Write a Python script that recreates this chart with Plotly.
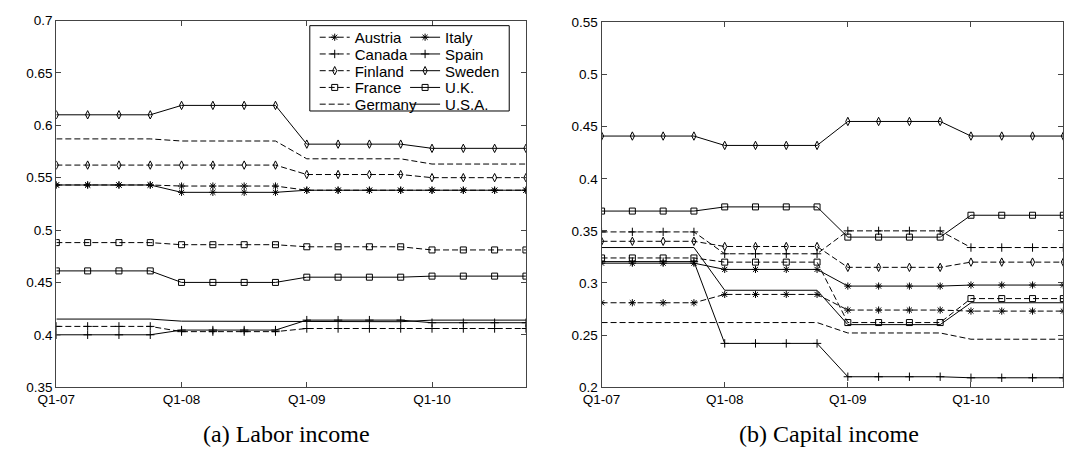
import plotly.graph_objects as go

# Quarterly periods on the horizontal axis
quarters = ["Q1-07", "Q2-07", "Q3-07", "Q4-07",
            "Q1-08", "Q2-08", "Q3-08", "Q4-08",
            "Q1-09", "Q2-09", "Q3-09", "Q4-09",
            "Q1-10", "Q2-10", "Q3-10", "Q4-10"]
xtick_labels = ["Q1-07", "Q1-08", "Q1-09", "Q1-10"]

countries = ["Austria", "Canada", "Finland", "France", "Germany",
             "Italy", "Spain", "Sweden", "U.K.", "U.S.A."]

# (a) Labor income
labor_austria = [0.543, 0.543, 0.543, 0.543, 0.542, 0.542, 0.542, 0.542,
                 0.538, 0.538, 0.538, 0.538, 0.538, 0.538, 0.538, 0.538]
labor_canada = [0.408, 0.408, 0.408, 0.408, 0.403, 0.403, 0.403, 0.403,
                0.406, 0.406, 0.406, 0.406, 0.406, 0.406, 0.406, 0.406]
labor_finland = [0.562, 0.562, 0.562, 0.562, 0.562, 0.562, 0.562, 0.562,
                 0.553, 0.553, 0.553, 0.553, 0.550, 0.550, 0.550, 0.550]
labor_france = [0.488, 0.488, 0.488, 0.488, 0.486, 0.486, 0.486, 0.486,
                0.484, 0.484, 0.484, 0.484, 0.481, 0.481, 0.481, 0.481]
labor_germany = [0.587, 0.587, 0.587, 0.587, 0.585, 0.585, 0.585, 0.585,
                 0.568, 0.568, 0.568, 0.568, 0.563, 0.563, 0.563, 0.563]
labor_italy = [0.543, 0.543, 0.543, 0.543, 0.536, 0.536, 0.536, 0.536,
               0.538, 0.538, 0.538, 0.538, 0.538, 0.538, 0.538, 0.538]
labor_spain = [0.400, 0.400, 0.400, 0.400, 0.4045, 0.4045, 0.4045, 0.4045,
               0.414, 0.414, 0.414, 0.414, 0.4115, 0.4115, 0.4115, 0.4115]
labor_sweden = [0.610, 0.610, 0.610, 0.610, 0.619, 0.619, 0.619, 0.619,
                0.582, 0.582, 0.582, 0.582, 0.578, 0.578, 0.578, 0.578]
labor_uk = [0.461, 0.461, 0.461, 0.461, 0.450, 0.450, 0.450, 0.450,
            0.455, 0.455, 0.455, 0.455, 0.456, 0.456, 0.456, 0.456]
labor_usa = [0.415, 0.415, 0.415, 0.415, 0.413, 0.413, 0.413, 0.413,
             0.4125, 0.4125, 0.4125, 0.4125, 0.414, 0.414, 0.414, 0.414]

# (b) Capital income
capital_austria = [0.281, 0.281, 0.281, 0.281, 0.289, 0.289, 0.289, 0.289,
                   0.274, 0.274, 0.274, 0.274, 0.273, 0.273, 0.273, 0.273]
capital_canada = [0.349, 0.349, 0.349, 0.349, 0.328, 0.328, 0.328, 0.328,
                  0.350, 0.350, 0.350, 0.350, 0.334, 0.334, 0.334, 0.334]
capital_finland = [0.340, 0.340, 0.340, 0.340, 0.335, 0.335, 0.335, 0.335,
                   0.315, 0.315, 0.315, 0.315, 0.320, 0.320, 0.320, 0.320]
capital_france = [0.324, 0.324, 0.324, 0.324, 0.320, 0.320, 0.320, 0.320,
                  0.262, 0.262, 0.262, 0.262, 0.285, 0.285, 0.285, 0.285]
capital_germany = [0.262, 0.262, 0.262, 0.262, 0.262, 0.262, 0.262, 0.262,
                   0.252, 0.252, 0.252, 0.252, 0.246, 0.246, 0.246, 0.246]
capital_italy = [0.319, 0.319, 0.319, 0.319, 0.313, 0.313, 0.313, 0.313,
                 0.297, 0.297, 0.297, 0.297, 0.298, 0.298, 0.298, 0.298]
capital_spain = [0.3205, 0.3205, 0.3205, 0.3205, 0.242, 0.242, 0.242, 0.242,
                 0.210, 0.210, 0.210, 0.210, 0.209, 0.209, 0.209, 0.209]
capital_sweden = [0.441, 0.441, 0.441, 0.441, 0.432, 0.432, 0.432, 0.432,
                  0.455, 0.455, 0.455, 0.455, 0.441, 0.441, 0.441, 0.441]
capital_uk = [0.369, 0.369, 0.369, 0.369, 0.373, 0.373, 0.373, 0.373,
              0.344, 0.344, 0.344, 0.344, 0.365, 0.365, 0.365, 0.365]
capital_usa = [0.334, 0.334, 0.334, 0.334, 0.293, 0.293, 0.293, 0.293,
               0.260, 0.260, 0.260, 0.260, 0.281, 0.281, 0.281, 0.281]

labor = [labor_austria, labor_canada, labor_finland, labor_france, labor_germany,
         labor_italy, labor_spain, labor_sweden, labor_uk, labor_usa]
capital = [capital_austria, capital_canada, capital_finland, capital_france,
           capital_germany, capital_italy, capital_spain, capital_sweden,
           capital_uk, capital_usa]

labor_yticks = [0.35, 0.4, 0.45, 0.5, 0.55, 0.6, 0.65, 0.7]
capital_yticks = [0.2, 0.25, 0.3, 0.35, 0.4, 0.45, 0.5, 0.55]

# Line and marker style per country (same order as countries)
DASHED = "6px,3px"
styles = [
    dict(dash=DASHED, symbol="asterisk", size=6),
    dict(dash=DASHED, symbol="cross-thin", size=6),
    dict(dash=DASHED, symbol="diamond-tall-open", size=6),
    dict(dash=DASHED, symbol="square-open", size=6),
    dict(dash=DASHED, symbol=None, size=0),
    dict(dash="solid", symbol="asterisk", size=6),
    dict(dash="solid", symbol="cross-thin", size=6),
    dict(dash="solid", symbol="diamond-tall-open", size=6),
    dict(dash="solid", symbol="square-open", size=6),
    dict(dash="solid", symbol=None, size=0),
]

# Each legend entry gets its own legend so the rows can be packed tightly
legend_ids = ["legend"] + [f"legend{k}" for k in range(2, len(countries) + 1)]

fig = go.Figure()


def add_panel(series, xaxis, yaxis, showlegend):
    for name, values, st, lid in zip(countries, series, styles, legend_ids):
        has_marker = st["symbol"] is not None
        fig.add_trace(go.Scatter(
            x=quarters, y=values, name=name,
            xaxis=xaxis, yaxis=yaxis,
            mode="lines+markers" if has_marker else "lines",
            line=dict(color="black", width=1, dash=st["dash"]),
            marker=dict(symbol=st["symbol"] or "circle", size=st["size"],
                        color="black",
                        line=dict(color="black", width=1)),
            showlegend=showlegend,
            legend=lid,
        ))


add_panel(labor, "x", "y", True)
add_panel(capital, "x2", "y2", False)

W, H = 1081, 459
tick_font = dict(family="Liberation Sans, Arial, sans-serif", size=13.5, color="black")
AXIS_COLOR = "#444"

xaxis_common = dict(
    type="category", categoryorder="array", categoryarray=quarters,
    range=[0, len(quarters) - 1],
    tickvals=xtick_labels, ticktext=xtick_labels,
    ticks="inside", ticklen=5, tickcolor=AXIS_COLOR, tickwidth=1,
    showline=True, linecolor=AXIS_COLOR, linewidth=1, mirror="allticks",
    showgrid=False, zeroline=False, tickfont=tick_font,
)
yaxis_common = dict(
    ticks="inside", ticklen=5, tickcolor=AXIS_COLOR, tickwidth=1,
    showline=True, linecolor=AXIS_COLOR, linewidth=1, mirror="allticks",
    showgrid=False, zeroline=False, tickfont=tick_font,
)

LEGEND_FONT = 15
ROW_PITCH = 17.3          # px between legend rows
FIRST_ROW = 30.7          # px from top of figure to centre of first row
COL_X = [301, 393]        # px, left edge of each legend column
# distance from a legend's top to the centre of its single entry
ENTRY_OFFSET = 5 + (max(LEGEND_FONT * 1.3, 16) + 3) / 2

legends = {}
for k, lid in enumerate(legend_ids):
    col, row = divmod(k, 5)
    top = FIRST_ROW + row * ROW_PITCH - ENTRY_OFFSET
    legends[lid] = dict(
        orientation="v", xanchor="left", yanchor="top",
        x=COL_X[col] / W, y=1 - top / H,
        bgcolor="rgba(0,0,0,0)", borderwidth=0,
        font=dict(family="Liberation Sans, Arial, sans-serif",
                  size=LEGEND_FONT, color="black"),
        itemsizing="trace",
    )

caption_font = dict(family="Liberation Serif, Times New Roman, serif", size=24, color="black")

fig.update_layout(
    width=W, height=H,
    margin=dict(l=0, r=0, t=0, b=0),
    paper_bgcolor="white", plot_bgcolor="white",
    xaxis=dict(domain=[38 / W, 516 / W], anchor="y", **xaxis_common),
    yaxis=dict(domain=[(H - 393) / H, (H - 14) / H], anchor="x",
               range=[0.35, 0.7], tickvals=labor_yticks,
               ticktext=[f"{v:g}" for v in labor_yticks], **yaxis_common),
    xaxis2=dict(domain=[593 / W, 1063 / W], anchor="y2", **xaxis_common),
    yaxis2=dict(domain=[(H - 393) / H, (H - 16) / H], anchor="x2",
                range=[0.2, 0.55], tickvals=capital_yticks,
                ticktext=[f"{v:g}" for v in capital_yticks], **yaxis_common),
    shapes=[
        # legend frame, drawn above the lines of panel (a)
        dict(type="rect", xref="paper", yref="paper", layer="above",
             x0=296 / W, x1=499 / W, y0=1 - 107.5 / H, y1=1 - 19.3 / H,
             fillcolor="white", line=dict(color="black", width=1)),
    ],
    annotations=[
        dict(text="(a) Labor income", x=272 / W, y=1 - 441 / H,
             xref="paper", yref="paper", showarrow=False,
             xanchor="center", yanchor="middle", font=caption_font),
        dict(text="(b) Capital income", x=824 / W, y=1 - 441 / H,
             xref="paper", yref="paper", showarrow=False,
             xanchor="center", yanchor="middle", font=caption_font),
    ],
)
fig.update_layout(**legends)

fig.write_html("out.html")
